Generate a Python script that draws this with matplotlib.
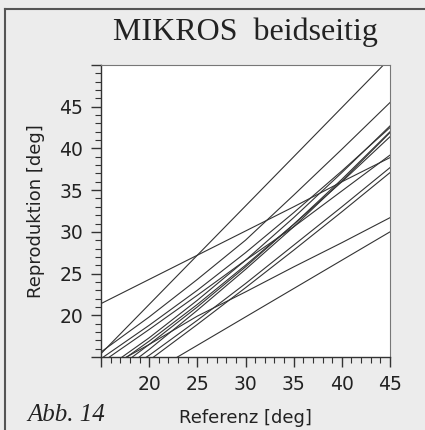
import matplotlib.pyplot as plt
from matplotlib.lines import Line2D
from matplotlib.ticker import MultipleLocator

# Referenzwinkel (x) und Reproduktion je Versuchsperson (y)
referenz = [15, 20, 25, 30, 35, 40, 45]

vp01 = [15.4, 21.3, 27.2, 33.1, 39.0, 44.9, 50.8]
vp02 = [15.6, 19.8, 24.3, 29.0, 34.4, 39.9, 45.5]
vp03 = [21.4, 24.3, 27.2, 30.1, 33.0, 36.0, 38.9]
vp04 = [9.6, 13.0, 16.4, 19.8, 23.2, 26.6, 30.0]
vp05 = [13.3, 16.5, 19.9, 22.8, 25.8, 28.7, 31.7]
vp06 = [13.2, 17.3, 21.8, 26.6, 31.7, 37.1, 42.7]
vp07 = [14.8, 18.8, 23.0, 27.5, 32.3, 37.3, 42.5]
vp08 = [12.2, 16.5, 21.0, 25.8, 30.9, 36.3, 42.0]
vp09 = [11.5, 15.9, 20.6, 25.5, 30.6, 36.1, 41.9]
vp10 = [12.8, 16.9, 21.3, 26.0, 30.9, 36.0, 41.4]
vp11 = [14.3, 18.3, 22.4, 26.6, 30.6, 34.9, 39.2]
vp12 = [11.5, 15.2, 19.4, 23.8, 28.4, 33.0, 37.7]
vp13 = [10.7, 14.6, 18.9, 23.3, 27.8, 32.4, 37.1]

alle_vp = [vp01, vp02, vp03, vp04, vp05, vp06, vp07,
           vp08, vp09, vp10, vp11, vp12, vp13]

fig = plt.figure(figsize=(4.25, 4.30), dpi=100)
fig.patch.set_facecolor('#ececec')

# Rahmen oben und links
fig.add_artist(Line2D([5 / 425, 1.0], [1 - 9 / 430, 1 - 9 / 430],
                      transform=fig.transFigure, color='#555555', lw=1.5))
fig.add_artist(Line2D([5 / 425, 5 / 425], [0.0, 1 - 9 / 430],
                      transform=fig.transFigure, color='#555555', lw=1.5))

ax = fig.add_axes([101 / 425, 1 - 357 / 430, 289 / 425, 292 / 430])
ax.set_facecolor('white')

for vp in alle_vp:
    ax.plot(referenz, vp, color='#333333', lw=0.8)

ax.set_xlim(15, 45)
ax.set_ylim(15, 50)
ax.xaxis.set_minor_locator(MultipleLocator(1))
ax.yaxis.set_minor_locator(MultipleLocator(1))

ax.set_xticks([15, 20, 25, 30, 35, 40, 45])
ax.set_xticklabels(['', '20', '25', '30', '35', '40', '45'])
ax.set_yticks([15, 20, 25, 30, 35, 40, 45, 50])
ax.set_yticklabels(['', '20', '25', '30', '35', '40', '45', ''])

ax.tick_params(which='major', length=7, width=1, color='#333333',
               labelsize=13.5, pad=6, labelcolor='#222222')
ax.tick_params(which='minor', length=4, width=0.8, color='#333333')
ax.tick_params(top=False, right=False)

for s in ['left', 'bottom']:
    ax.spines[s].set_color('#333333')
    ax.spines[s].set_linewidth(1.0)
for s in ['top', 'right']:
    ax.spines[s].set_color('#777777')
    ax.spines[s].set_linewidth(0.8)

for lbl in ax.get_xticklabels() + ax.get_yticklabels():
    lbl.set_family('DejaVu Sans')

ax.set_xlabel('Referenz [deg]', fontsize=13, family='DejaVu Sans',
              color='#222222', labelpad=11)
ax.set_ylabel('Reproduktion [deg]', fontsize=13, family='DejaVu Sans',
              color='#222222', labelpad=10)

fig.text(245.5 / 425, 1 - 32 / 430, 'MIKROS  beidseitig', ha='center',
         va='center', fontsize=23, family='Liberation Serif', color='#222222')
fig.text(27 / 425, 1 - 415 / 430, 'Abb. 14', ha='left', va='center',
         fontsize=18, family='Liberation Serif', style='italic', color='#222222')

fig.savefig('out.png', dpi=100, facecolor=fig.get_facecolor())
